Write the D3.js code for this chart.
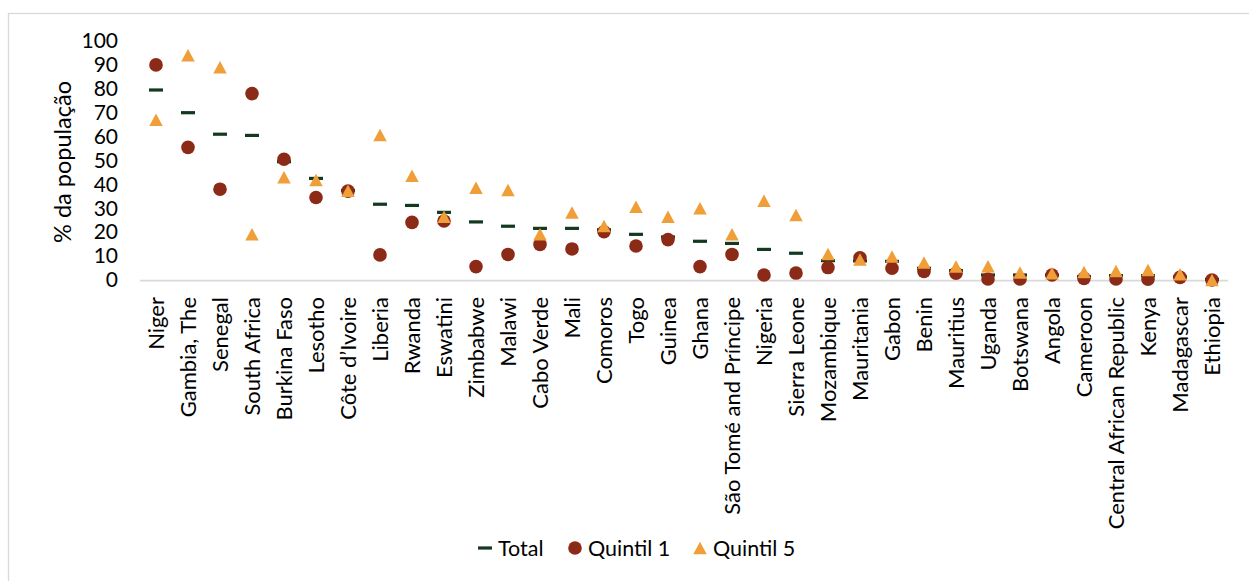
<!DOCTYPE html>
<html>
<head>
<meta charset="utf-8">
<script src="https://cdn.jsdelivr.net/npm/d3@7"></script>
<style>
  html, body { margin: 0; padding: 0; background: #fff; }
  svg { display: block; font-family: Lato, "Noto Sans", sans-serif; }
</style>
</head>
<body>
<svg id="chart" width="1249" height="581"></svg>
<script>
const categories = ["Niger","Gambia, The","Senegal","South Africa","Burkina Faso","Lesotho","Côte d’Ivoire","Liberia","Rwanda","Eswatini","Zimbabwe","Malawi","Cabo Verde","Mali","Comoros","Togo","Guinea","Ghana","São Tomé and Príncipe","Nigeria","Sierra Leone","Mozambique","Mauritania","Gabon","Benin","Mauritius","Uganda","Botswana","Angola","Cameroon","Central African Republic","Kenya","Madagascar","Ethiopia"];
const total = [79.5, 70, 61, 60.5, 49.5, 42.5, 37.5, 31.7, 31.2, 28.3, 24.3, 22.5, 21.6, 21.6, 21, 19.1, 18, 16.2, 15.3, 12.8, 11.2, 8.1, 8, 7.8, 4.9, 3.9, 2.1, 2.1, 2.1, 1.4, 1.8, 1.8, 1.3, 0.3];
const quintil1 = [90, 55.5, 38, 78, 50.5, 34.5, 37.2, 10.5, 24.1, 24.7, 5.6, 10.7, 14.9, 13, 20.2, 14.2, 16.9, 5.6, 10.7, 2.1, 2.9, 5.2, 9.3, 4.9, 3.6, 2.8, 0.4, 0.4, 2.1, 0.7, 0.4, 0.3, 1.1, 0];
const quintil5 = [67, 94, 89, 19.1, 43, 41.8, 37.3, 60.7, 43.6, 26.5, 38.6, 37.7, 19.1, 28.2, 22.6, 30.7, 26.5, 30, 19.1, 33.2, 27.2, 10.9, 8.6, 9.8, 7.3, 5.6, 5.8, 3.1, 2.8, 3.3, 3.8, 4.2, 2.4, 0];
const yTicks = [0, 10, 20, 30, 40, 50, 60, 70, 80, 90, 100];
const yTitle = "% da população";
const legendLabels = ["Total", "Quintil 1", "Quintil 5"];
const colors = { total: "#15391f", q1: "#8b2a16", q5: "#ef9e38" };

const svg = d3.select("#chart");

// outer chart border
svg.append("rect").attr("x", 8.5).attr("y", 13.5).attr("width", 1300).attr("height", 600)
  .attr("fill", "none").attr("stroke", "#d9d9d9").attr("stroke-width", 1.3);

const x = d3.scaleBand().domain(categories).range([140, 1228]);
const y = d3.scaleLinear().domain([0, 100]).range([280, 41]);
const cx = d => x(d) + x.bandwidth() / 2;

// y axis labels
const yAxis = svg.append("g").attr("transform", "translate(124,0)")
  .call(d3.axisLeft(y).tickValues(yTicks).tickSize(0).tickPadding(6));
yAxis.select(".domain").remove();
yAxis.selectAll("text").attr("font-size", 21).attr("fill", "#000").attr("font-family", "Lato");

// y title
svg.append("text").attr("transform", "translate(63,162) rotate(-90)")
  .attr("text-anchor", "middle").attr("dy", "0.35em")
  .attr("font-size", 23.5).attr("fill", "#000").text(yTitle);

// baseline
svg.append("line").attr("x1", 140).attr("x2", 1228).attr("y1", y(0) + 0.7).attr("y2", y(0) + 0.7)
  .attr("stroke", "#d9d9d9").attr("stroke-width", 1.8);

// x labels
const xAxis = svg.append("g").attr("transform", "translate(0,280)")
  .call(d3.axisBottom(x).tickSize(0).tickPadding(0));
xAxis.select(".domain").remove();
xAxis.selectAll("text")
  .attr("font-size", 22).attr("fill", "#000").attr("font-family", "Lato")
  .attr("text-anchor", "end")
  .attr("transform", "translate(0,17) rotate(-90)")
  .attr("x", 0).attr("y", 0).attr("dy", "0.36em");

function triPath(w, h) {
  return `M0,${-h/2}L${w/2},${h/2}L${-w/2},${h/2}Z`;
}

svg.append("g").selectAll("rect").data(categories).join("rect")
  .attr("x", d => cx(d) - 7).attr("y", (d, i) => y(total[i]) - 1.6)
  .attr("width", 14).attr("height", 3.2).attr("fill", colors.total);

svg.append("g").selectAll("circle").data(categories).join("circle")
  .attr("cx", d => cx(d)).attr("cy", (d, i) => y(quintil1[i]))
  .attr("r", 6.8).attr("fill", colors.q1);

svg.append("g").selectAll("path").data(categories).join("path")
  .attr("transform", (d, i) => `translate(${cx(d)},${y(quintil5[i])})`)
  .attr("d", triPath(13.5, 12.5)).attr("fill", colors.q5);

// legend
const lg = svg.append("g");
const ly = 548;
lg.append("rect").attr("x", 478).attr("y", ly - 1.6).attr("width", 14).attr("height", 3.2).attr("fill", colors.total);
lg.append("text").attr("x", 498).attr("y", ly).attr("dy", "0.36em").attr("font-size", 21.5).text(legendLabels[0]);
lg.append("circle").attr("cx", 575).attr("cy", ly).attr("r", 6.8).attr("fill", colors.q1);
lg.append("text").attr("x", 588).attr("y", ly).attr("dy", "0.36em").attr("font-size", 21.5).text(legendLabels[1]);
lg.append("path").attr("transform", `translate(700,${ly})`).attr("d", triPath(13.5, 12.5)).attr("fill", colors.q5);
lg.append("text").attr("x", 713).attr("y", ly).attr("dy", "0.36em").attr("font-size", 21.5).text(legendLabels[2]);
</script>
</body>
</html>
